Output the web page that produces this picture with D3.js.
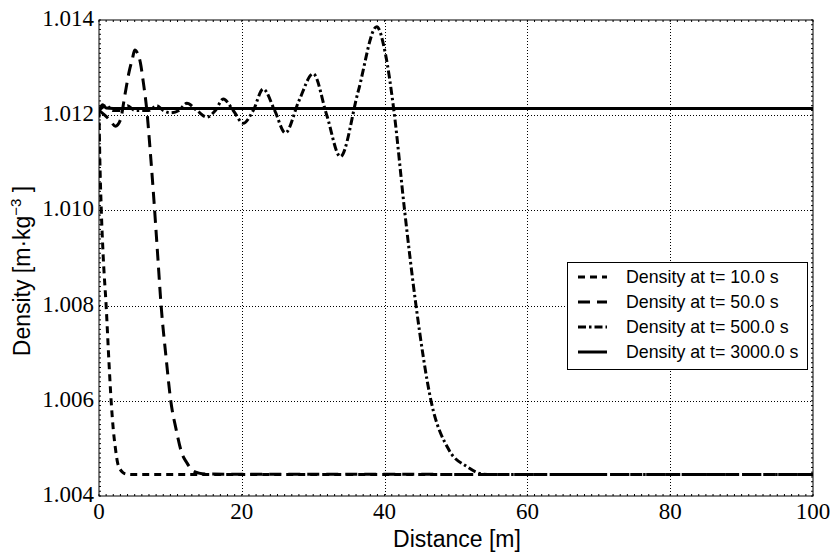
<!DOCTYPE html>
<html>
<head>
<meta charset="utf-8">
<script src="https://cdn.jsdelivr.net/npm/d3@7"></script>
<style>
  body { margin: 0; background: #fff; }
  svg { display: block; }
</style>
</head>
<body>
<div id="chart"></div>
<script>
// ticks
const xTicks = [0, 20, 40, 60, 80, 100];
const yTicks = [1.004, 1.006, 1.008, 1.010, 1.012, 1.014];

// series
const labels = ["Density at t= 10.0 s", "Density at t= 50.0 s", "Density at t= 500.0 s", "Density at t= 3000.0 s"];

const x10 = [0, 0.1, 0.3, 0.6, 1.0, 1.4, 1.7, 2.0, 2.3, 2.6, 2.9, 3.3, 3.8, 4.5, 100];
const y10 = [1.0121, 1.0112, 1.0101, 1.0090, 1.0080, 1.0068, 1.0060, 1.0054, 1.0050, 1.0047, 1.00458, 1.0045, 1.00446, 1.00445, 1.00445];

const x50 = [0, 0.8, 1.5, 2.3, 3.0, 3.6, 4.2, 4.7, 5.0, 5.4, 5.8, 6.2, 6.7, 7.2, 7.7, 8.2, 8.7, 9.4, 10.05, 10.8, 11.6, 12.3, 13.0, 14.0, 15, 100];
const y50 = [1.0121, 1.0120, 1.0119, 1.01177, 1.0119, 1.0124, 1.0129, 1.0132, 1.01337, 1.0133, 1.0131, 1.0127, 1.0121, 1.0112, 1.0102, 1.0091, 1.0080, 1.0069, 1.0060, 1.0054, 1.0049, 1.0047, 1.00455, 1.00448, 1.00446, 1.00445];

const x500 = [0, 1, 2, 3, 4, 5, 6, 7, 8.1, 9, 10.0, 11.2, 12.3, 13.7, 15.1, 16.3, 17.4, 18.8, 20.2, 21.6, 23.0, 24.6, 26.1, 28.0, 30.0, 31.9, 33.8, 36.3, 38.9, 40.1, 41.3, 42.8, 44.4, 46.5, 49.0, 51.5, 53.8, 56, 100];
const y500 = [1.0121, 1.0122, 1.0121, 1.0121, 1.0122, 1.0121, 1.0121, 1.0121, 1.0122, 1.0121, 1.01205, 1.0121, 1.01225, 1.0121, 1.01196, 1.0121, 1.01234, 1.0121, 1.01183, 1.0121, 1.01255, 1.0121, 1.01163, 1.0123, 1.01287, 1.0120, 1.01113, 1.0125, 1.01386, 1.0133, 1.0121, 1.0100, 1.0080, 1.0060, 1.00497, 1.00462, 1.00446, 1.00445, 1.00445];

const x3000 = [0, 0.5, 1, 2, 100];
const y3000 = [1.0121, 1.01222, 1.01215, 1.01214, 1.01214];

const W = 833, H = 554;
const margin = {left: 99, right: 20, top: 20, bottom: 58};

const svg = d3.select("#chart").append("svg")
    .attr("width", W)
    .attr("height", H);

const x = d3.scaleLinear().domain([0, 100]).range([margin.left, W - margin.right]);
const y = d3.scaleLinear().domain([1.004, 1.014]).range([H - margin.bottom, margin.top]);

// grid
const grid = svg.append("g").attr("stroke", "#000").attr("stroke-width", 1).attr("stroke-dasharray", "1,2");
grid.selectAll(".gx").data(xTicks.slice(1, -1)).join("line")
    .attr("x1", d => Math.round(x(d)) + 0.5).attr("x2", d => Math.round(x(d)) + 0.5)
    .attr("y1", y(1.014)).attr("y2", y(1.004));
grid.selectAll(".gy").data(yTicks.slice(1, -1)).join("line")
    .attr("y1", d => Math.round(y(d)) + 0.5).attr("y2", d => Math.round(y(d)) + 0.5)
    .attr("x1", x(0)).attr("x2", x(100));

// curves
const line = d3.line()
    .x(d => x(d[0]))
    .y(d => y(d[1]))
    .curve(d3.curveMonotoneX);

const series = [
    {xs: x10, ys: y10, dash: "7,5"},
    {xs: x50, ys: y50, dash: "12,7"},
    {xs: x500, ys: y500, dash: "8,3,2.5,3"},
    {xs: x3000, ys: y3000, dash: null}
];

svg.append("clipPath").attr("id", "clip").append("rect")
    .attr("x", x(0)).attr("y", y(1.014))
    .attr("width", x(100) - x(0)).attr("height", y(1.004) - y(1.014));

const plot = svg.append("g").attr("clip-path", "url(#clip)");
series.forEach(s => {
    plot.append("path")
        .datum(s.xs.map((v, i) => [v, s.ys[i]]))
        .attr("fill", "none")
        .attr("stroke", "#000")
        .attr("stroke-width", 3)
        .attr("stroke-dasharray", s.dash)
        .attr("d", line);
});

// frame
svg.append("rect")
    .attr("x", x(0)).attr("y", y(1.014))
    .attr("width", x(100) - x(0)).attr("height", y(1.004) - y(1.014))
    .attr("fill", "none").attr("stroke", "#000").attr("stroke-width", 1);

// minor ticks
const ticksG = svg.append("g").attr("stroke", "#000").attr("stroke-width", 1);
const xMinor = d3.range(0, 100.01, 1);
const yMinor = d3.range(1.004, 1.01401, 0.0001);
ticksG.selectAll(".mxb").data(xMinor).join("line")
    .attr("x1", d => x(d)).attr("x2", d => x(d))
    .attr("y1", y(1.004)).attr("y2", y(1.004) - 2);
ticksG.selectAll(".mxt").data(xMinor).join("line")
    .attr("x1", d => x(d)).attr("x2", d => x(d))
    .attr("y1", y(1.014)).attr("y2", y(1.014) + 2);
ticksG.selectAll(".myl").data(yMinor).join("line")
    .attr("y1", d => y(d)).attr("y2", d => y(d))
    .attr("x1", x(0)).attr("x2", x(0) + 2);
ticksG.selectAll(".myr").data(yMinor).join("line")
    .attr("y1", d => y(d)).attr("y2", d => y(d))
    .attr("x1", x(100)).attr("x2", x(100) - 2);

// tick labels
svg.append("g").selectAll("text").data(xTicks).join("text")
    .attr("x", d => x(d))
    .attr("y", y(1.004) + 23)
    .attr("text-anchor", "middle")
    .attr("font-family", "Liberation Serif, serif")
    .attr("font-size", 23)
    .text(d => d);

svg.append("g").selectAll("text").data(yTicks).join("text")
    .attr("x", x(0) - 5)
    .attr("y", d => y(d) + 6)
    .attr("text-anchor", "end")
    .attr("font-family", "Liberation Serif, serif")
    .attr("font-size", 23)
    .text(d => d.toFixed(3));

// axis labels
svg.append("text")
    .attr("x", 457).attr("y", 547)
    .attr("text-anchor", "middle")
    .attr("font-family", "Liberation Sans, Arial, sans-serif")
    .attr("font-size", 23)
    .text("Distance [m]");

const yl = svg.append("text")
    .attr("transform", "translate(30,271) rotate(-90)")
    .attr("text-anchor", "middle")
    .attr("font-family", "Liberation Sans, Arial, sans-serif")
    .attr("font-size", 23);
yl.append("tspan").text("Density [m·kg");
yl.append("tspan").attr("font-size", 15).attr("dy", -9).text("−3");
yl.append("tspan").attr("dy", 9).text(" ]");

// legend
const lg = svg.append("g");
lg.append("rect")
    .attr("x", 567.5).attr("y", 262.5)
    .attr("width", 240).attr("height", 107)
    .attr("fill", "#fff").attr("stroke", "#000").attr("stroke-width", 1);
const rows = lg.selectAll("g.row").data(series).join("g")
    .attr("transform", (d, i) => `translate(0,${277 + i * 25})`);
rows.append("line")
    .attr("x1", 578).attr("x2", 607)
    .attr("stroke", "#000").attr("stroke-width", 3)
    .attr("stroke-dasharray", d => d.dash);
rows.append("text")
    .attr("x", 626).attr("y", 0)
    .attr("dominant-baseline", "central")
    .attr("font-family", "Liberation Sans, Arial, sans-serif")
    .attr("font-size", 17.8)
    .text((d, i) => labels[i]);
</script>
</body>
</html>
